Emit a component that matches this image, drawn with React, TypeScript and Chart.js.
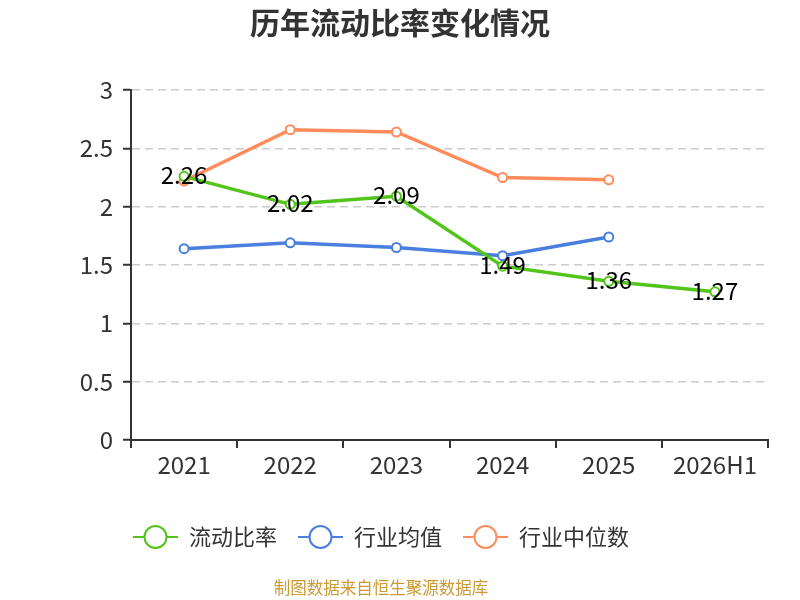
import { useEffect, useRef } from "react"
import { Chart } from "chart.js/auto"

const FONT = '"Noto Sans CJK SC", "Noto Sans", sans-serif'

const categories = ["2021", "2022", "2023", "2024", "2025", "2026H1"]
const currentRatio = [2.26, 2.02, 2.09, 1.49, 1.36, 1.27]
const industryAvg = [1.64, 1.69, 1.65, 1.58, 1.74, null]
const industryMedian = [2.22, 2.66, 2.64, 2.25, 2.23, null]

const seriesNames = ["流动比率", "行业均值", "行业中位数"]
const seriesColors = ["#52c41a", "#4a7fe0", "#ff8c5a"]

const title = "历年流动比率变化情况"
const source = "制图数据来自恒生聚源数据库"

// value labels on the first series
const valueLabels = {
  id: "valueLabels",
  afterDatasetsDraw(chart) {
    const ctx = chart.ctx
    const meta = chart.getDatasetMeta(0)
    ctx.save()
    ctx.font = `24px ${FONT}`
    ctx.fillStyle = "#000"
    ctx.textAlign = "center"
    ctx.textBaseline = "middle"
    meta.data.forEach((pt, i) => {
      const v = currentRatio[i]
      if (v == null) return
      ctx.fillText(v.toFixed(2), pt.x, pt.y - 1)
    })
    ctx.restore()
  },
}

// title, legend and source note
const decorations = {
  id: "decorations",
  afterDraw(chart) {
    const ctx = chart.ctx
    ctx.save()
    ctx.fillStyle = "#333"
    ctx.font = `bold 30px ${FONT}`
    ctx.textAlign = "center"
    ctx.textBaseline = "middle"
    ctx.fillText(title, 400, 23)

    ctx.font = `22px ${FONT}`
    ctx.textAlign = "left"
    let x = 133
    const y = 537
    seriesNames.forEach((name, i) => {
      ctx.strokeStyle = seriesColors[i]
      ctx.lineWidth = 2
      ctx.beginPath()
      ctx.moveTo(x, y)
      ctx.lineTo(x + 45, y)
      ctx.stroke()
      ctx.beginPath()
      ctx.arc(x + 22.5, y, 11, 0, Math.PI * 2)
      ctx.fillStyle = "#fff"
      ctx.fill()
      ctx.stroke()
      ctx.fillStyle = "#333"
      ctx.fillText(name, x + 56, y)
      x += 56 + ctx.measureText(name).width + 21
    })

    ctx.font = `16.5px ${FONT}`
    ctx.fillStyle = "#cc9933"
    ctx.textAlign = "center"
    ctx.fillText(source, 381, 588)
    ctx.restore()
  },
}

export default function App() {
  const canvasRef = useRef(null)
  const chartRef = useRef(null)

  useEffect(() => {
    document.body.style.margin = "0"
    if (!canvasRef.current) return
    if (chartRef.current) chartRef.current.destroy()

    const data = [currentRatio, industryAvg, industryMedian]
    chartRef.current = new Chart(canvasRef.current.getContext("2d"), {
      type: "line",
      data: {
        labels: categories,
        datasets: seriesNames.map((name, i) => ({
          label: name,
          data: data[i],
          borderColor: seriesColors[i],
          backgroundColor: "#fff",
          borderWidth: 3.5,
          pointRadius: 4.5,
          pointBorderWidth: 2,
          pointBackgroundColor: "#fff",
          pointBorderColor: seriesColors[i],
          tension: 0,
          spanGaps: false,
        })),
      },
      options: {
        responsive: false,
        animation: false,
        layout: { padding: { top: 90, right: 32, bottom: 100, left: 0 } },
        plugins: {
          legend: { display: false },
          title: { display: false },
          tooltip: { enabled: false },
        },
        scales: {
          x: {
            offset: true,
            grid: {
              display: true,
              drawOnChartArea: false,
              offset: true,
              tickLength: 8,
              color: "#333",
              lineWidth: 2,
            },
            border: { color: "#333", width: 2 },
            ticks: { color: "#333", font: { family: FONT, size: 24 }, padding: 2 },
            afterFit(scale) {
              scale.height = 60
            },
          },
          y: {
            min: 0,
            max: 3,
            ticks: {
              stepSize: 0.5,
              color: "#333",
              font: { family: FONT, size: 24 },
              padding: 10,
              callback: (v) => String(Number(v)),
            },
            grid: {
              color: (c) => (c.tick && c.tick.value === 0 ? "rgba(0,0,0,0)" : "#cccccc"),
              lineWidth: 1.5,
              tickLength: 8,
              tickColor: "#333",
              tickWidth: 2,
              tickBorderDash: [],
            },
            border: { color: "#333", width: 2, dash: [8, 5] },
            afterFit(scale) {
              scale.width = 131
            },
          },
        },
      },
      plugins: [valueLabels, decorations],
    })

    return () => {
      if (chartRef.current) {
        chartRef.current.destroy()
        chartRef.current = null
      }
    }
  }, [])

  return <canvas ref={canvasRef} width={800} height={600} style={{ display: "block" }}></canvas>
}
